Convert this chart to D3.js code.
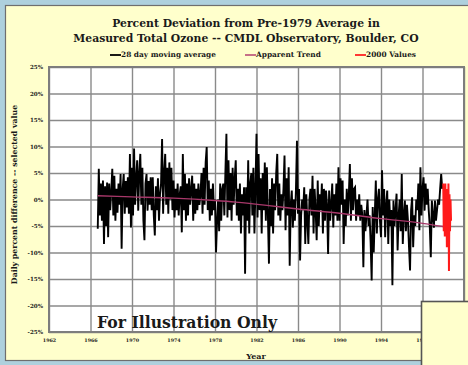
<!DOCTYPE html>
<html>
<head>
<meta charset="utf-8">
<script src="https://cdn.jsdelivr.net/npm/d3@7"></script>
<style>
  html, body { margin: 0; padding: 0; background: #aed0dd; }
  svg { display: block; }
  text { font-family: "DejaVu Serif", "Liberation Serif", serif; font-weight: bold; fill: #1a1a1a; }
</style>
</head>
<body>
<svg id="chart" width="468" height="365"></svg>
<script>
// ---- data ----
const titleLines = ["Percent Deviation from Pre-1979 Average in",
                    "Measured Total Ozone -- CMDL Observatory, Boulder, CO"];
const legendLabels = ["28 day moving average", "Apparent Trend", "2000 Values"];
const xTicks = [1962, 1966, 1970, 1974, 1978, 1982, 1986, 1990, 1994, 1998, 2002];
const xTickLabels = [1962, 1966, 1970, 1974, 1978, 1982, 1986, 1990, 1994, 1998];
const yTicks = [25, 20, 15, 10, 5, 0, -5, -10, -15, -20, -25];

// 28-day moving average, % deviation, one value every 0.1 yr from 1966.7
const maStartYear = 1966.7;
const maStep = 0.1;
const movingAvg = [
  -5.5, 5.8, -3,
  3, -4, 3.6, -8.4, 2.5, -5, 3.2, -7.1, 3, -2,
  1.5, 5.8, -3, 4.5, -4, 2, -2.5, 3, -1, 4.8,
  -9.3, 2, 4.8, -2.7, 3.5, -1.5, 4.2, -2.7, 8.6, -5.3,
  6, -3, 9.6, -1, 4, 7.4, -2.1, 5, 8.6, -1,
  6, -4, -7.7, 3, 4.8, -2.1, 3.5, -1, 4.2, -2,
  4.2, -3, -6.8, 2.5, -2, 4, -4, 1, 3, 11.4,
  -2.7, 5, 8.6, -1, 6, -2.7, 7, 0, 6, -2,
  3.6, -3.4, 2, -2, 3, -3, 1, 2.5, -6.2, 8.6,
  -2, 4.8, -4, 3, -3, 4, -1, 2, 4.5, -4,
  3, -2.7, 2, -2, 3, -1, 1, 5, -2.7, 6,
  -1, 7, 9.9, -2, 3.6, -4, 2, -3, 3, -2,
  0, -10, -4, 0, -6, 3, -4, 2, 3, -3,
  5, 12.4, -3.4, 7.4, -2, 5, -4, 6, -1, 4,
  7.4, -3, 2, -4, 3, -6.4, 1, -3, 2.3, -14,
  2.3, -4, 7.4, -6.4, 3, 5, -3, 6, -6.4, 2,
  12.4, -3.4, 8.6, -2, 4, -6.4, 5, -2, 7, -4,
  6.1, -3, -12.1, 2, -5, 4, -6.4, 3, -2, 5,
  8.6, -3, 3, -4, 1, -2, 2, 8.3, -5.8, 4,
  -3, 6.1, -12.5, -1, 1.7, -5.3, 0, -4, 1.7, 11.1,
  -2.7, 2, -11.5, -3, 0, -2, 2.3, -8.4, 1, -4,
  -8.4, 0, 2, -3, 4.5, -6.4, 2, -2, -7.7, 3.6,
  -5, 1, -2, 3, -6.4, 2, -4, 1.7, -1, -10.3,
  1.7, -4, -1, 3, -5.3, 1, -3, 3, -4, 6.1,
  -4, 4, -1, 3.6, -8.4, 0, -5, 2, -3, 1,
  6.7, -4, 4, -2, 2, 2.3, -4, 0, -3, 1,
  -4, -1, -3, -12.8, -2, -6, -3, 0, -5, -3,
  -8, -15.3, -1.4, -10, -3, 3.6, -6.4, 0, 2, -4,
  -7.1, 5.5, -3, 2, -7.1, -1, 1.7, -8.4, 0, -5,
  -2, -16.2, -0.2, -5, -2, 1.1, -9.6, -3, 0, -6,
  4.8, -8.4, -3, -0.2, -6, -1, -4, -9, -13.4, -2,
  0.4, -9, -3, -5, 0, -2, 3, -5.8, 6.1, -3,
  2, 4.2, -2.1, 3, -1, 2, -2, -5, -10.9, -0.2,
  -3, -5.3, -0.2, -4, -2, 0, -1, 2, 4.8, 2
];

// apparent trend (year, %)
const trendYears  = [1966.7, 1970, 1974, 1978, 1980, 1983, 1986, 1990, 1994, 1998, 2000];
const trendValues = [0.7, 0.5, 0.25, -0.2, -0.5, -1.1, -1.8, -2.6, -3.6, -4.5, -5.1];

// 2000 values, one every 0.05 yr from 2000.0
const y2000Start = 2000.0;
const y2000Step = 0.05;
const values2000 = [3, -6, 2.5, -7, 3, -5, 1, -9, 2, -7, 3, -13.5, 1, -6, 0, -4];

// ---- drawing ----
const svg = d3.select("#chart");
const plot = { left: 49, top: 67, right: 464, bottom: 332 };

// cream panel
svg.append("rect").attr("x", 5.5).attr("y", 5.5).attr("width", 470).attr("height", 355)
  .attr("fill", "#ffffcc").attr("stroke", "#6e6e6e").attr("stroke-width", 1.2);

const x = d3.scaleLinear().domain([1962, 2002]).range([plot.left, plot.right]);
const y = d3.scaleLinear().domain([-25, 25]).range([plot.bottom, plot.top]);

// plot background
svg.append("rect").attr("x", plot.left).attr("y", plot.top)
  .attr("width", plot.right - plot.left).attr("height", plot.bottom - plot.top)
  .attr("fill", "#ffffff");

// gridlines
const gridX = svg.append("g").attr("transform", `translate(0,${plot.bottom})`)
  .call(d3.axisBottom(x).tickValues(xTicks).tickSize(-(plot.bottom - plot.top)).tickFormat(""));
const gridY = svg.append("g").attr("transform", `translate(${plot.left},0)`)
  .call(d3.axisLeft(y).tickValues(yTicks).tickSize(-(plot.right - plot.left)).tickFormat(""));
[gridX, gridY].forEach(g => {
  g.select(".domain").remove();
  g.selectAll("line").attr("stroke", "#8a8a8a").attr("stroke-width", 1.4);
});

// plot border
svg.append("rect").attr("x", plot.left).attr("y", plot.top)
  .attr("width", plot.right - plot.left).attr("height", plot.bottom - plot.top)
  .attr("fill", "none").attr("stroke", "#7d7d7d").attr("stroke-width", 2);

// tick labels
const yLab = svg.append("g").attr("transform", `translate(${plot.left},0)`)
  .call(d3.axisLeft(y).tickValues(yTicks).tickSize(0).tickPadding(6).tickFormat(d => d + "%"));
yLab.select(".domain").remove();
yLab.selectAll("text").attr("font-size", 5.6).style("font-family", "DejaVu Serif").style("font-weight", "bold").attr("fill", "#222");

const xLab = svg.append("g").attr("transform", `translate(0,${plot.bottom})`)
  .call(d3.axisBottom(x).tickValues(xTickLabels).tickSize(0).tickPadding(7).tickFormat(d3.format("d")));
xLab.select(".domain").remove();
xLab.selectAll("text").attr("font-size", 4.8).style("font-family", "DejaVu Serif").style("font-weight", "bold").attr("fill", "#222");

// series
const maPoints = movingAvg.map((v, i) => [maStartYear + i * maStep, v]);
const trendPoints = trendYears.map((yr, i) => [yr, trendValues[i]]);
const pts2000 = values2000.map((v, i) => [y2000Start + i * y2000Step, v]);
const line = d3.line().x(d => x(d[0])).y(d => y(d[1]));

svg.append("path").datum(maPoints).attr("d", line)
  .attr("fill", "none").attr("stroke", "#000").attr("stroke-width", 1.9).attr("stroke-linejoin", "miter");
svg.append("path").datum(trendPoints).attr("d", d3.line().curve(d3.curveMonotoneX).x(d => x(d[0])).y(d => y(d[1])))
  .attr("fill", "none").attr("stroke", "#a8386a").attr("stroke-width", 1.4);
svg.append("path").datum(pts2000).attr("d", line)
  .attr("fill", "none").attr("stroke", "#ff1a1a").attr("stroke-width", 2);

// titles
svg.selectAll("text.title").data(titleLines).join("text").attr("class", "title")
  .attr("x", 246).attr("y", (d, i) => 27 + i * 15)
  .attr("text-anchor", "middle").attr("font-size", 10.8).text(d => d);

// legend
const legendX = [110, 245, 355];
const legendColors = ["#000000", "#c0607f", "#ff2222"];
const lg = svg.selectAll("g.legend").data(legendLabels).join("g").attr("class", "legend")
  .attr("transform", (d, i) => `translate(${legendX[i]},55)`);
lg.append("line").attr("x1", 0).attr("x2", 11).attr("y1", 0).attr("y2", 0)
  .attr("stroke", (d, i) => legendColors[i]).attr("stroke-width", 1.8);
lg.append("text").attr("x", 11).attr("y", 2.3).attr("font-size", 7.4).text(d => d);

// axis titles
svg.append("text").attr("transform", `translate(17,${(plot.top + plot.bottom) / 2 - 5}) rotate(-90)`)
  .attr("text-anchor", "middle").attr("font-size", 7.8).text("Daily percent difference -- selected value");
svg.append("text").attr("x", 256).attr("y", 359).attr("text-anchor", "middle")
  .attr("font-size", 8).text("Year");

// watermark note
svg.append("text").attr("x", 97).attr("y", 328).attr("font-size", 16)
  .attr("textLength", 180).attr("lengthAdjust", "spacingAndGlyphs").attr("fill", "#111")
  .text("For Illustration Only");

// overlapping panel in the lower right
svg.append("rect").attr("x", 421.5).attr("y", 301.5).attr("width", 60).attr("height", 80)
  .attr("fill", "#ffffcc").attr("stroke", "#555").attr("stroke-width", 1.6);
</script>
</body>
</html>
